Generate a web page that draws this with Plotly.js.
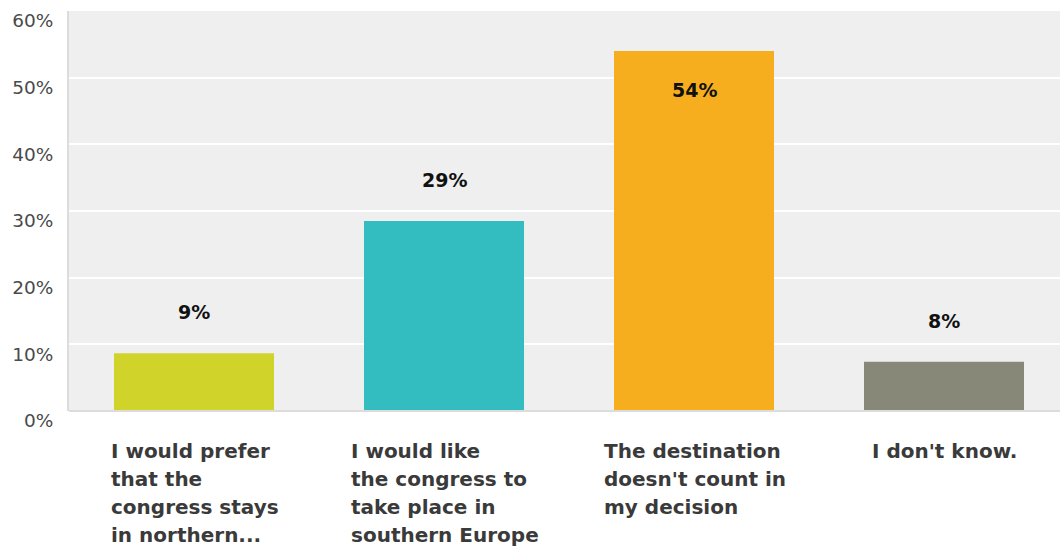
<!DOCTYPE html>
<html>
<head>
<meta charset="utf-8">
<script src="https://cdn.plot.ly/plotly-3.0.1.min.js"></script>
<style>html,body{margin:0;padding:0;background:#fff;}#chart{width:1060px;height:549px;}</style>
</head>
<body>
<div id="chart"></div>
<script>
const categories = [
  ["I would prefer", "that the", "congress stays", "in northern..."],
  ["I would like", "the congress to", "take place in", "southern Europe"],
  ["The destination", "doesn't count in", "my decision"],
  ["I don't know."]
];
const values = [8.65, 28.5, 54.0, 7.4];
const valueLabels = ["9%", "29%", "54%", "8%"];
const colors = ["#d0d42a", "#33bdc1", "#f6ae1f", "#878878"];
const yTicks = [0, 10, 20, 30, 40, 50, 60];
const yTickText = ["0%", "10%", "20%", "30%", "40%", "50%", "60%"];

const FONT = "DejaVu Sans, Verdana, sans-serif";
const CAT_SIZE = 20;
const xIdx = categories.map((_, i) => i);

const canvas = document.createElement('canvas');
const ctx = canvas.getContext('2d');
ctx.font = 'bold ' + CAT_SIZE + 'px "DejaVu Sans"';

const trace = {
  type: 'bar',
  x: xIdx,
  y: values,
  marker: {color: colors, line: {width: 0}},
  hoverinfo: 'skip'
};

const annotations = [];
xIdx.forEach((i) => {
  const inside = values[i] > 50;
  annotations.push({
    x: i, y: values[i], xref: 'x', yref: 'y',
    text: '<b>' + valueLabels[i] + '</b>',
    showarrow: false,
    font: {family: FONT, size: 19, color: '#111'},
    xanchor: 'center', yanchor: 'middle',
    yshift: inside ? -39 : 41
  });
  const lines = categories[i];
  const maxW = Math.max(...lines.map(l => ctx.measureText(l).width));
  lines.forEach((line, k) => {
    annotations.push({
      x: i, y: 0, xref: 'x', yref: 'paper',
      text: '<b>' + line + '</b>',
      showarrow: false,
      align: 'left',
      xanchor: 'left', yanchor: 'middle',
      xshift: -maxW / 2 - 1,
      yshift: -(40 + 28 * k),
      font: {family: FONT, size: CAT_SIZE, color: '#3a3a3a'}
    });
  });
});

const layout = {
  width: 1060, height: 549,
  margin: {l: 69, r: 0, t: 11, b: 138},
  paper_bgcolor: '#ffffff',
  plot_bgcolor: '#efefef',
  showlegend: false,
  bargap: 0.36,
  xaxis: {
    range: [-0.5, 3.464],
    showticklabels: false,
    showgrid: false,
    zeroline: false,
    showline: false,
    fixedrange: true
  },
  yaxis: {
    range: [0, 60],
    tickvals: yTicks,
    ticktext: yTickText,
    showgrid: true,
    gridcolor: '#ffffff',
    gridwidth: 2,
    zeroline: false,
    showline: true,
    linecolor: '#dcdcdc',
    linewidth: 2,
    ticks: '',
    ticklabelshift: 10,
    ticklabelstandoff: 10,
    tickfont: {family: FONT, size: 18.5, color: '#4a4a4a'},
    fixedrange: true
  },
  shapes: [{
    type: 'line', xref: 'paper', yref: 'paper',
    x0: 0, x1: 1, y0: 0, y1: 0,
    line: {color: '#dcdcdc', width: 2}
  }],
  annotations: annotations
};

Plotly.newPlot('chart', [trace], layout, {displayModeBar: false, staticPlot: true});
</script>
</body>
</html>
